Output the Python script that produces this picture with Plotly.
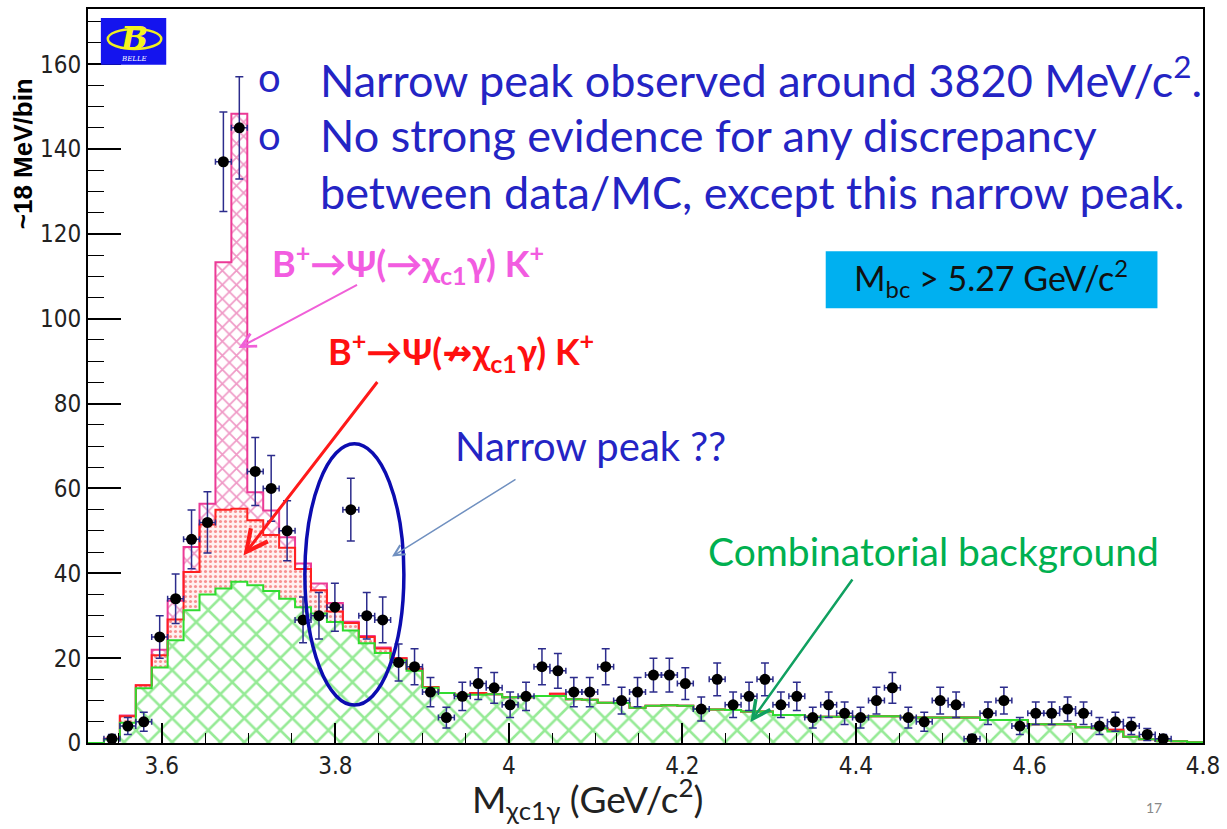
import numpy as np
import plotly.graph_objects as go

# Binning of the M(chi_c1 gamma) histogram (~18 MeV/bin)
x_lo, x_hi, n_bins = 3.515, 4.8, 70

# Observed events, bins 1..67
data_counts = [1, 4, 5, 25, 34, 48, 52, 137, 145, 64, 60, 50, 29, 30, 32, 55, 30, 29,
               19, 18, 12, 6, 11, 14, 13, 9, 11, 18, 17, 12, 12, 18, 10, 12, 16, 16,
               14, 8, 15, 9, 11, 15, 9, 11, 6, 9, 7, 6, 10, 13, 6, 5, 10, 9, 1, 7,
               10, 4, 7, 7, 8, 7, 4, 5, 4, 2, 1]
first_data_bin = 1

# MC components per bin (stacked bottom to top)
comb_bkg = [0, 0.8, 4.8, 12.9, 17.8, 24.2, 31.3, 35.0, 36.4, 38.0, 37.2, 35.8, 34.0, 32.0,
            30.5, 28.5, 26.5, 23.5, 21.2, 19.5, 17.0, 13.0, 11.8, 11.4, 11.4, 11.5, 10.8,
            10.8, 11.1, 11.1, 10.3, 10.2, 9.5, 9.4, 8.3, 8.8, 8.9, 8.8, 8.0, 7.9, 7.8,
            7.4, 7.4, 6.6, 6.6, 6.2, 6.2, 6.2, 6.2, 6.3, 6.3, 6.0, 6.0, 6.0, 6.0, 6.0,
            5.4, 5.4, 5.4, 4.4, 4.4, 4.4, 3.7, 3.5, 2.7, 1.5, 0.9, 0.6, 0.4, 0.2]
psi_other = [0, 0.2, 1.5, 0.7, 2.9, 4.9, 9.0, 16.5, 18.6, 17.2, 15.3, 13.2, 12.0, 9.0,
             5.5, 2.5, 1.8, 1.5, 1.1, 0.5, 0.5, 0.2, 0, 0, 0.4, 0, 0, 0, 0,
             0.5, 0, 0, 0, 0, 0, 0, 0, 0, 0, 0, 0, 0, 0, 0,
             0, 0, 0, 0, 0, 0, 0, 0, 0, 0, 0, 0, 0, 0, 0,
             0, 0, 0, 0, 0, 0.4, 0, 0, 0, 0, 0]
psi_chic1g = [0, 0, 0.2, 0, 1.3, 4.4, 5.9, 4.9, 58.3, 93.1, 6.6, 5.8, 2.5, 1.3, 1.6, 2.0,
              0.3, 0.2, 0.2] + [0] * 51

y_ticks = [0, 20, 40, 60, 80, 100, 120, 140, 160]
x_ticks = [3.6, 3.8, 4.0, 4.2, 4.4, 4.6, 4.8]
x_tick_text = ["3.6", "3.8", "4", "4.2", "4.4", "4.6", "4.8"]

edges = np.linspace(x_lo, x_hi, n_bins + 1)
centers = 0.5 * (edges[:-1] + edges[1:])
half_w = 0.5 * (edges[1] - edges[0])

lvl_green = np.array(comb_bkg)
lvl_red = lvl_green + np.array(psi_other)
lvl_mag = lvl_red + np.array(psi_chic1g)


def steps(v):
    return np.append(v, v[-1])


GREEN = "#30dc30"
RED = "#ff2020"
MAG = "#ec3a96"
NAVY = "#2c2c8c"
BLUE_TXT = "#2424c4"

fig = go.Figure()
# Hatched / dotted fills of the stacked MC
fill_specs = [
    (lvl_green, "tozeroy", dict(shape="x", fgcolor="#2ed62e", bgcolor="white", size=17, solidity=0.28)),
    (lvl_red, "tonexty", dict(shape=".", fgcolor="#f03030", bgcolor="#fff0f0", size=5, solidity=0.3)),
    (lvl_mag, "tonexty", dict(shape="x", fgcolor="#e0358e", bgcolor="white", size=10, solidity=0.32)),
]
for lvl, fmode, patt in fill_specs:
    fig.add_trace(go.Scatter(
        x=edges, y=steps(lvl), mode="lines", line=dict(shape="hv", width=0),
        fill=fmode, fillcolor="rgba(0,0,0,0)", fillpattern=patt,
        hoverinfo="skip", showlegend=False))

# Outlines: psi->chi_c1 gamma first, combinatorial on top
for lvl, col in ((lvl_mag, MAG), (lvl_red, RED), (lvl_green, GREEN)):
    fig.add_trace(go.Scatter(
        x=edges, y=steps(lvl), mode="lines", line=dict(shape="hv", color=col, width=2),
        hoverinfo="skip", showlegend=False))

n_data = len(data_counts)
dx = centers[first_data_bin:first_data_bin + n_data]
dy = np.array(data_counts, dtype=float)
fig.add_trace(go.Scatter(
    x=dx, y=dy, mode="markers",
    marker=dict(color="black", size=11, symbol="circle"),
    error_y=dict(type="data", array=np.sqrt(dy), color=NAVY, thickness=1.5, width=4),
    error_x=dict(type="constant", value=half_w, color=NAVY, thickness=1.5, width=3),
    hoverinfo="skip", showlegend=False))

# Plot frame in pixels
L, T, R, B = 88, 7, 1214, 743


def px(xp):
    return (xp - L) / (R - L)


def py(yp):
    return (B - yp) / (B - T)


tick_font = dict(family="Liberation Sans Narrow, DejaVu Sans Condensed, Liberation Sans, Arial",
                 size=24, color="#222222")
slide_font = "Lato, Open Sans, sans-serif"

fig.update_layout(
    width=1227, height=829,
    margin=dict(l=L, r=1227 - R, t=T, b=829 - B),
    paper_bgcolor="white", plot_bgcolor="white",
    xaxis=dict(range=[x_lo, x_hi], tickvals=x_ticks, ticktext=x_tick_text,
               ticks="inside", ticklen=20, tickwidth=1.5, tickcolor="black",
               minor=dict(dtick=0.05, tick0=3.6, ticks="inside", ticklen=10, tickcolor="black", tickwidth=1.2),
               showline=True, linecolor="black", linewidth=2, mirror=True,
               showgrid=False, zeroline=False, tickfont=tick_font, ticklabeloverflow="allow"),
    yaxis=dict(range=[0, 173], tickvals=y_ticks,
               ticks="inside", ticklen=33, tickwidth=1.5, tickcolor="black",
               minor=dict(dtick=5, tick0=0, ticks="inside", ticklen=16, tickcolor="black", tickwidth=1.2),
               showline=True, linecolor="black", linewidth=2, mirror=True,
               showgrid=False, zeroline=False, tickfont=tick_font),
)

shapes = []
annotations = []


def label(xp, yp, text, font, xanchor="center", yanchor="middle", **kw):
    annotations.append(dict(x=px(xp), y=py(yp), xref="paper", yref="paper", showarrow=False,
                            xanchor=xanchor, yanchor=yanchor, text=text, font=font, **kw))


# Belle logo
shapes.append(dict(type="rect", xref="paper", yref="paper", x0=px(101), x1=px(167), y0=py(63), y1=py(16),
                   fillcolor="#1414ee", line=dict(width=0), layer="above"))
shapes.append(dict(type="circle", xref="paper", yref="paper", x0=px(108), x1=px(162), y0=py(47), y1=py(27),
                   line=dict(color="#f0f020", width=2.5), layer="above"))
label(134, 36, "<i><b>B</b></i>", dict(family="DejaVu Serif", size=32, color="#f4f420"))
label(134, 57, "<i>BELLE</i>", dict(family="DejaVu Serif", size=7, color="white"))

# Axis titles
label(22, 152, "<b>~18 MeV/bin</b>", dict(family="Liberation Sans, Arial", size=26, color="black"),
      textangle=-90)
label(592, 799, "M<sub>χc1γ</sub> (GeV/c<sup>2</sup>)", dict(family=slide_font, size=37, color="#222222"))
label(1165, 808, "17", dict(family=slide_font, size=14, color="#888888"))

# Bullet text
for yp in (75, 133):
    label(271, yp, "o", dict(family=slide_font, size=40, color=BLUE_TXT))
bullet_lines = [("Narrow peak observed around 3820 MeV/c<sup>2</sup>.", 75),
                ("No strong evidence for any discrepancy", 133),
                ("between data/MC, except this narrow peak.", 190)]
for txt, yp in bullet_lines:
    label(320, yp, txt, dict(family=slide_font, size=45, color=BLUE_TXT), xanchor="left")

# M_bc selection box
shapes.append(dict(type="rect", xref="paper", yref="paper", x0=px(833), x1=px(1168), y0=py(307), y1=py(250),
                   fillcolor="#00b0f0", line=dict(width=0), layer="above"))
label(1000, 277, "M<sub>bc</sub> > 5.27 GeV/c<sup>2</sup>", dict(family=slide_font, size=34, color="#111111"))

# Component labels
label(272, 262, "<b>B<sup>+</sup>→Ψ(→χ<sub>c1</sub>γ) K<sup>+</sup></b>",
      dict(family=slide_font, size=36, color="#f25ce0"), xanchor="left")
label(328, 350, "<b>B<sup>+</sup>→Ψ(<span style='font-family:DejaVu Sans'>↛</span>χ<sub>c1</sub>γ) K<sup>+</sup></b>",
      dict(family=slide_font, size=36, color="#ff1010"), xanchor="left")
label(457, 445, "Narrow peak ??", dict(family=slide_font, size=40, color=BLUE_TXT), xanchor="left")
label(712, 550, "Combinatorial background", dict(family=slide_font, size=39, color="#00b050"), xanchor="left")

# Arrows (head position, tail position in pixels)
arrows = [((240, 347), (360, 283), "#f060d8", 2.0),
          ((245, 555), (380, 380), "#ff1a1a", 3.0),
          ((395, 556), (520, 478), "#7090c0", 1.5),
          ((757, 722), (860, 578), "#10a060", 2.5)]
for (hx, hy), (tx, ty), col, w in arrows:
    annotations.append(dict(x=px(hx), y=py(hy), xref="paper", yref="paper", ax=tx - hx, ay=ty - hy,
                            axref="pixel", ayref="pixel", showarrow=True, arrowhead=5, arrowsize=1.4,
                            arrowwidth=w, arrowcolor=col, text=""))

# Ellipse around the narrow peak
shapes.append(dict(type="circle", xref="paper", yref="paper", x0=px(307), x1=px(407), y0=py(705), y1=py(443),
                   line=dict(color="#0c0cb0", width=3.5), layer="above"))

fig.update_layout(shapes=shapes, annotations=annotations)
fig.write_html("out.html")
